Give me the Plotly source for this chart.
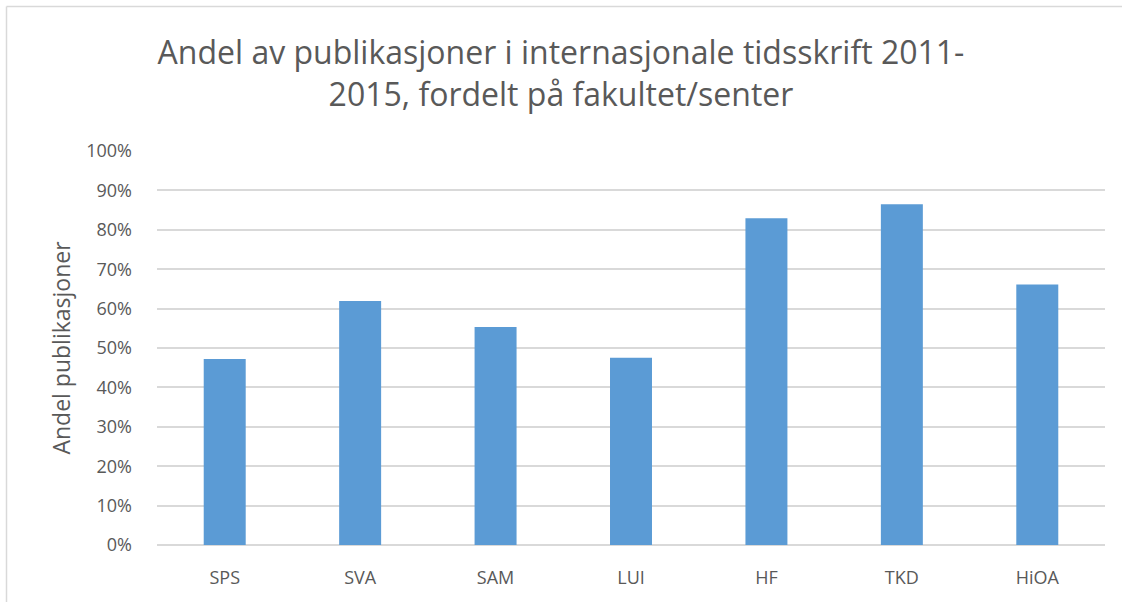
import plotly.graph_objects as go

categories = ["SPS", "SVA", "SAM", "LUI", "HF", "TKD", "HiOA"]
values = [0.472, 0.619, 0.553, 0.475, 0.829, 0.865, 0.661]
y_ticks = [0, 0.1, 0.2, 0.3, 0.4, 0.5, 0.6, 0.7, 0.8, 0.9, 1.0]
y_tick_labels = ["0%", "10%", "20%", "30%", "40%", "50%", "60%", "70%", "80%", "90%", "100%"]

FONT = "Open Sans, Noto Sans, sans-serif"
GREY = "#595959"

W, H = 1122, 602
L, R, T, B = 157, 17, 151, 57
pw, ph = W - L - R, H - T - B

def px(x):
    return (x - L) / pw

def py(y):
    return (H - B - y) / ph

fig = go.Figure()
fig.add_trace(go.Bar(
    x=categories, y=values,
    marker=dict(color="#5b9bd5", line=dict(width=0)),
))

fig.update_layout(
    width=W, height=H,
    margin=dict(l=L, r=R, t=T, b=B),
    plot_bgcolor="white", paper_bgcolor="white",
    bargap=0.69,
    showlegend=False,
    font=dict(family=FONT, color=GREY),
    title=dict(
        text="Andel av publikasjoner i internasjonale tidsskrift 2011-<br>2015, fordelt på fakultet/senter",
        x=0.5, xref="container", xanchor="center",
        y=1 - 64 / H, yref="container", yanchor="middle",
        font=dict(size=32, color=GREY, family=FONT),
    ),
    xaxis=dict(
        showgrid=False, showline=False, zeroline=False,
        tickfont=dict(size=18, color=GREY),
        ticklabelstandoff=20,
    ),
    yaxis=dict(
        range=[0, 1],
        tickvals=y_ticks, ticktext=y_tick_labels,
        showgrid=True, gridcolor="#d9d9d9", gridwidth=1.5,
        zeroline=True, zerolinecolor="#d9d9d9", zerolinewidth=1.5,
        showline=False,
        tickfont=dict(size=18, color=GREY),
        ticklabelstandoff=24,
        title=dict(text="Andel publikasjoner", font=dict(size=23, color=GREY), standoff=9),
    ),
    shapes=[
        dict(type="line", xref="paper", yref="paper",
             x0=px(6.5), x1=px(W), y0=py(6.5), y1=py(6.5),
             line=dict(color="#d9d9d9", width=1.5)),
        dict(type="line", xref="paper", yref="paper",
             x0=px(6.5), x1=px(6.5), y0=py(6.5), y1=py(H),
             line=dict(color="#d9d9d9", width=1.5)),
    ],
)

fig.write_html(
    "out.html",
    config={"displayModeBar": False},
    post_script="document.body.style.margin='0';document.body.style.padding='0';",
)
